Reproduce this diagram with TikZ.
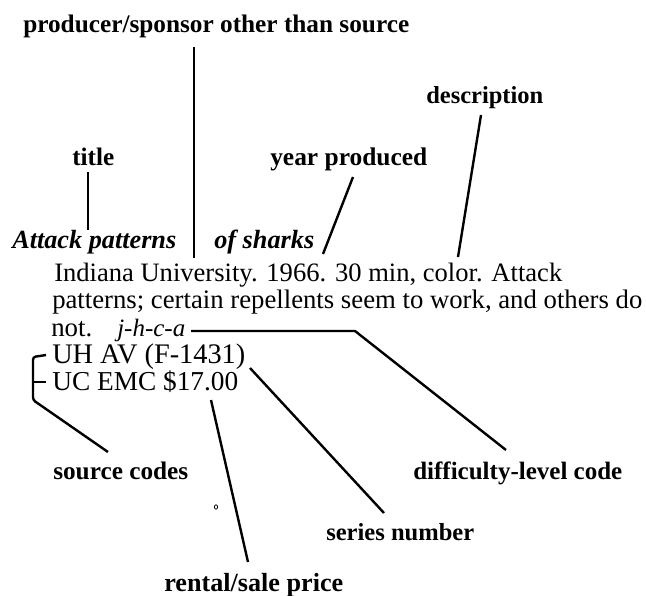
\documentclass[tikz,border=0pt]{standalone}
\usepackage{fontspec}
\setmainfont{Liberation Serif}
\newlength\pxu
\setlength\pxu{0.75pt}
\newcommand{\fitw}[2]{\resizebox{#1\pxu}{!}{#2}}
\begin{document}
\begin{tikzpicture}[x=0.75pt,y=-0.75pt,
  lbl/.style={anchor=base west,inner sep=0pt,font=\bfseries},
  bodytxt/.style={anchor=base west,inner sep=0pt},
  conn/.style={line width=1.8pt,line cap=butt,line join=miter}]
\useasboundingbox (0,0) rectangle (646,596);
% labels
\node[lbl] (prod) at (23,32) {\fitw{386}{producer/sponsor other than source}};
\node[lbl] (desc) at (426,103) {\fitw{117}{description}};
\node[lbl] (title) at (72,165) {\fitw{42}{title}};
\node[lbl] (year) at (270,165) {\fitw{157}{year produced}};
\node[lbl] (src) at (53,479) {\fitw{135}{source codes}};
\node[lbl] (diff) at (413,479) {\fitw{209}{difficulty-level code}};
\node[lbl] (ser) at (326,540) {\fitw{148}{series number}};
\node[lbl] (rent) at (164,591) {\fitw{179}{rental/sale price}};
% entry text
\node[lbl,font=\bfseries\itshape] (att) at (12,248) {\fitw{164}{Attack patterns}};
\node[lbl,font=\bfseries\itshape] (shk) at (214,248) {\fitw{100}{of sharks}};
\node[bodytxt] (l1) at (54,281) {\fitw{508}{Indiana University. 1966. 30 min, color. Attack}};
\node[bodytxt] (l2) at (52,308) {\fitw{590}{patterns; certain repellents seem to work, and others do}};
\node[bodytxt] (l3) at (51,336) {\fitw{41}{not.}};
\node[bodytxt,font=\itshape] (code) at (117,336) {\fitw{68}{j-h-c-a}};
\node[bodytxt] (uh) at (52,363) {\fitw{193}{UH AV (F-1431)}};
\node[bodytxt] (uc) at (52,390) {\fitw{186}{UC EMC \$17.00}};
% connector end points
\coordinate (p1) at (194,47);   \coordinate (p2) at (194,258);
\coordinate (d1) at (481,115);  \coordinate (d2) at (458,257);
\coordinate (t1) at (88,172);   \coordinate (t2) at (88,230);
\coordinate (y1) at (353,177);  \coordinate (y2) at (323,254);
\coordinate (c1) at (191,331);  \coordinate (c2) at (355,331); \coordinate (c3) at (506,450);
\coordinate (s1) at (250,368);  \coordinate (s2) at (384,513);
\coordinate (r1) at (211,400);  \coordinate (r2) at (248,562);
\coordinate (b1) at (46,355);   \coordinate (b2) at (33,357);
\coordinate (b3) at (33,400);   \coordinate (b4) at (108,452);
\coordinate (m1) at (33,382);   \coordinate (m2) at (46,382);
% connectors
\draw[conn] (p1) -- (p2);
\draw[conn] (d1) -- (d2);
\draw[conn] (t1) -- (t2);
\draw[conn] (y1) -- (y2);
\draw[conn] (c1) -- (c2) -- (c3);
\draw[conn] (s1) -- (s2);
\draw[conn] (r1) -- (r2);
\draw[conn,rounded corners=2pt] (b1) -- (b2) -- (b3) -- (b4);
\draw[conn] (m1) -- (m2);
\draw[line width=0.6pt] (216,507) ellipse (1.6 and 2.2);
\end{tikzpicture}
\end{document}
